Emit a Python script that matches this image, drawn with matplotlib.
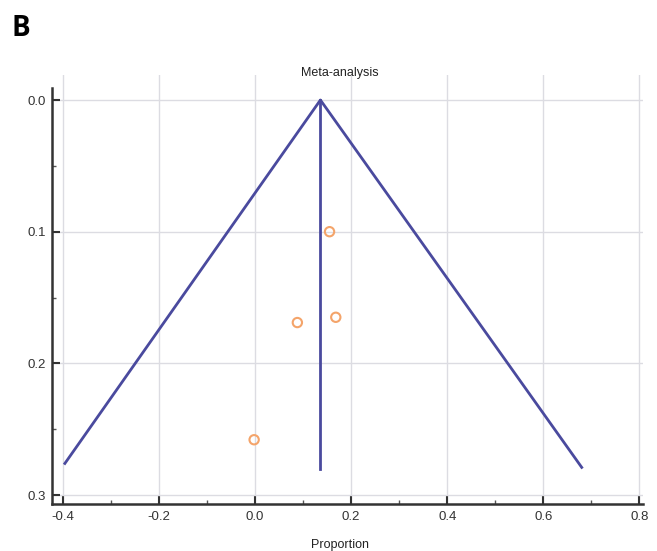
import matplotlib
matplotlib.use("Agg")
import matplotlib.pyplot as plt
from matplotlib.ticker import MultipleLocator

# Data
prop = [0.155, 0.088, 0.168, -0.002]
se = [0.100, 0.169, 0.165, 0.258]
pooled = 0.136
funnel_x = [-0.396, 0.136, 0.680]
funnel_y = [0.276, 0.0, 0.279]
vline_y = [0.0, 0.28]

xticks = [-0.4, -0.2, 0.0, 0.2, 0.4, 0.6, 0.8]
xticklabels = ["-0.4", "-0.2", "0.0", "0.2", "0.4", "0.6", "0.8"]
yticks = [0.0, 0.1, 0.2, 0.3]
yticklabels = ["0.0", "0.1", "0.2", "0.3"]

plt.rcParams['font.family'] = ['Liberation Sans', 'DejaVu Sans']

fig = plt.figure(figsize=(6.57, 5.51), dpi=100)
ax = fig.add_axes([0.079, 0.0853, 0.9, 0.7786])

line_color = "#4a4a9e"
ax.plot(funnel_x, funnel_y, color=line_color, lw=2, zorder=3)
ax.plot([pooled, pooled], vline_y, color=line_color, lw=2, zorder=3)
ax.scatter(prop, se, s=45, facecolors="none", edgecolors="#f4a46a", linewidths=1.5, zorder=4)

ax.set_xlim(-0.423, 0.808)
ax.set_ylim(0.3068, -0.019)
ax.set_xticks(xticks)
ax.set_xticklabels(xticklabels)
ax.set_yticks(yticks)
ax.set_yticklabels(yticklabels)
ax.xaxis.set_minor_locator(MultipleLocator(0.1))
ax.yaxis.set_minor_locator(MultipleLocator(0.05))
ax.tick_params(axis="x", which="major", pad=5)
ax.tick_params(axis="y", which="major", pad=4)
ax.tick_params(which="major", direction="in", length=6, width=1.5, labelsize=9.5, colors="#333333")
ax.tick_params(which="minor", direction="in", length=3, width=1, colors="#555555")
ax.grid(True, which="major", color="#dcdce2", lw=1)
ax.set_axisbelow(True)

for s in ["top", "right"]:
    ax.spines[s].set_visible(False)
ax.spines["left"].set_bounds(0.3068, -0.009)
ax.spines["left"].set_linewidth(1.8)
ax.spines["bottom"].set_linewidth(1.8)
ax.spines["left"].set_color("#333333")
ax.spines["bottom"].set_color("#333333")

fig.text(0.517, 1 - 73 / 551, "Meta-analysis", fontsize=9, ha="center", va="center", color="#222222")
fig.text(0.517, 1 - 545 / 551, "Proportion", fontsize=9, ha="center", va="center", color="#222222")

fig.text(0.017, 1 - 28 / 551, "B", fontsize=20, fontweight="bold", va="center", ha="left",
         family=["Open Sans", "DejaVu Sans"])

fig.savefig("out.png", dpi=100)
